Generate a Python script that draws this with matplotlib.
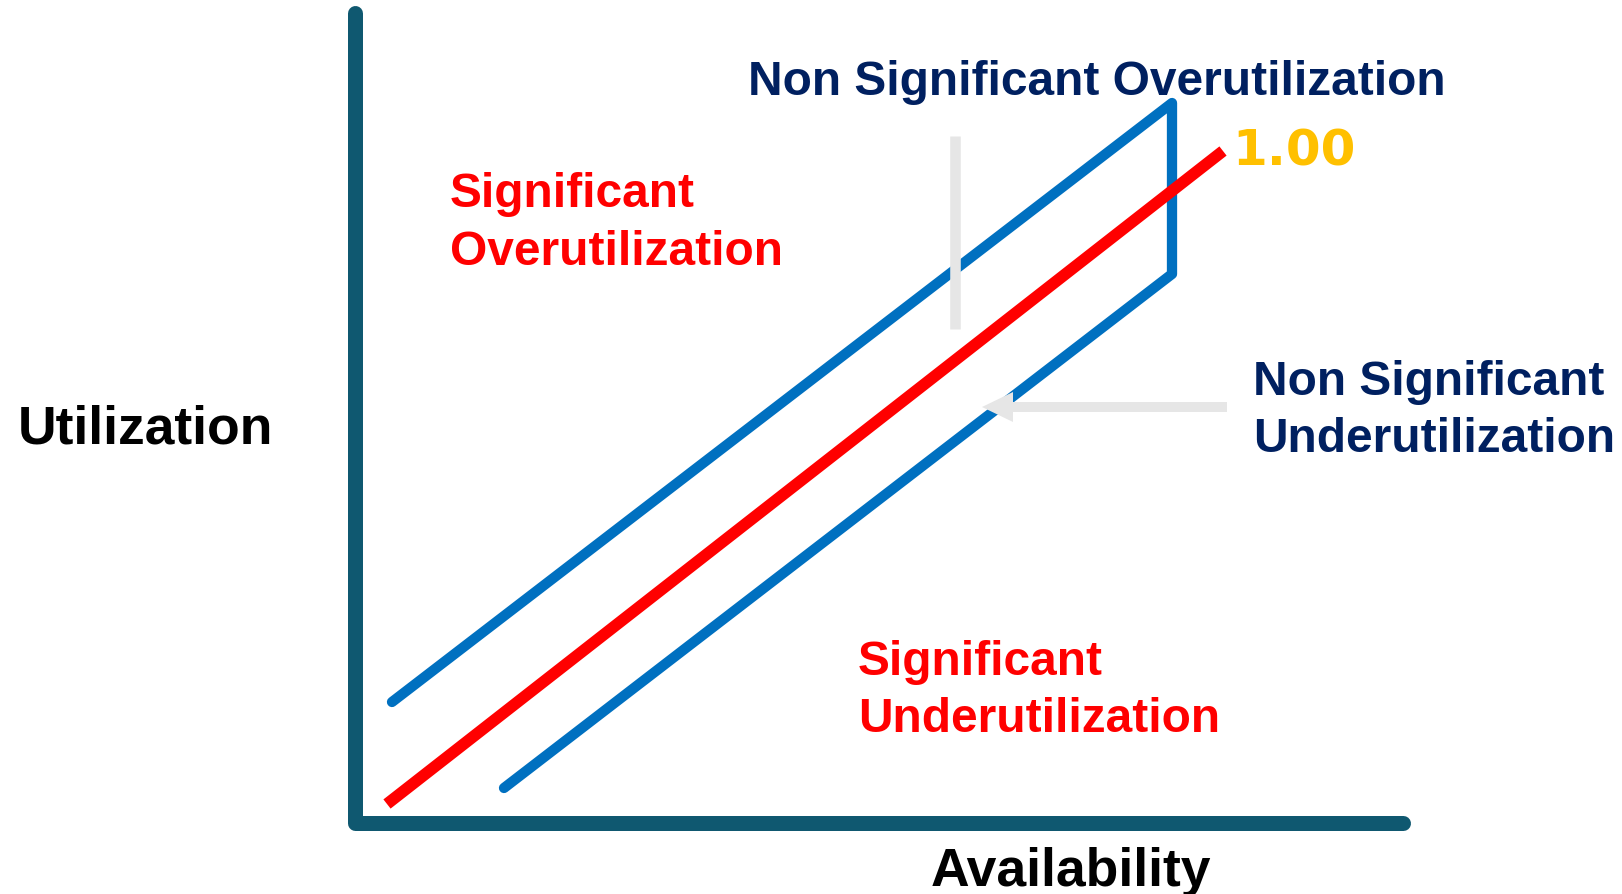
import matplotlib
matplotlib.use("Agg")
import matplotlib.pyplot as plt
from matplotlib.patches import FancyArrow

# Diagram coordinates: origin at the corner of the axes, one unit = one pixel
axis_x = [0, 0, 1048]
axis_y = [810, 0, 0]

# Line of perfect agreement (ratio 1.00)
diag_x = [32, 868]
diag_y = [19, 672]

# Tolerance band around the diagonal (upper limit, cap, lower limit)
band_x = [37, 817, 817, 149]
band_y = [121, 720, 549, 35]

# Pointer marks for the non-significant zones
pointer_x = [600, 600]
pointer_y = [494, 687]
arrow_start = (872, 416)
arrow_length = 245

AXIS_COLOR = "#0F5870"
BAND_COLOR = "#0070C0"
DIAG_COLOR = "#FF0000"
NAVY = "#002060"
GOLD = "#FFC000"
POINTER = "#E6E6E6"

fig = plt.figure(figsize=(16.22, 8.95), dpi=100)
ax = fig.add_axes([0, 0, 1, 1])
ax.set_xlim(-355, 1622 - 355)
ax.set_ylim(-(895 - 824), 824)
ax.axis("off")

ax.plot(axis_x, axis_y, color=AXIS_COLOR, lw=10.8,
        solid_capstyle="round", solid_joinstyle="round", zorder=2)
ax.plot(band_x, band_y, color=BAND_COLOR, lw=7.4,
        solid_capstyle="round", solid_joinstyle="round", zorder=3)
ax.plot(diag_x, diag_y, color=DIAG_COLOR, lw=8.4,
        solid_capstyle="butt", zorder=4)

ax.plot(pointer_x, pointer_y, color=POINTER, lw=7.6,
        solid_capstyle="butt", zorder=5)
ax.add_patch(FancyArrow(arrow_start[0], arrow_start[1], -arrow_length, 0,
                        width=10, head_width=30, head_length=31,
                        length_includes_head=True, color=POINTER,
                        lw=0, zorder=5))

font = "Liberation Sans"
fs = 34.5

def label(x, y, s, color, size=fs, family=font):
    ax.text(x, y, s, color=color, fontsize=size, fontweight="bold",
            family=family, ha="left", va="baseline", zorder=6)

label(-337, 380, "Utilization", "black", size=38.5)
label(576, -62, "Availability", "black", size=38.5)

label(95, 617, "Significant", DIAG_COLOR)
label(95, 559, "Overutilization", DIAG_COLOR)

label(503, 149, "Significant", DIAG_COLOR)
label(503, 92, "Underutilization", DIAG_COLOR)

label(393, 729, "Non Significant Overutilization", NAVY)

label(898, 429, "Non Significant", NAVY)
label(898, 372, "Underutilization", NAVY)

label(877, 658, "1.00", GOLD, size=36, family="DejaVu Sans")

fig.savefig("out.png", dpi=100, facecolor="white")
